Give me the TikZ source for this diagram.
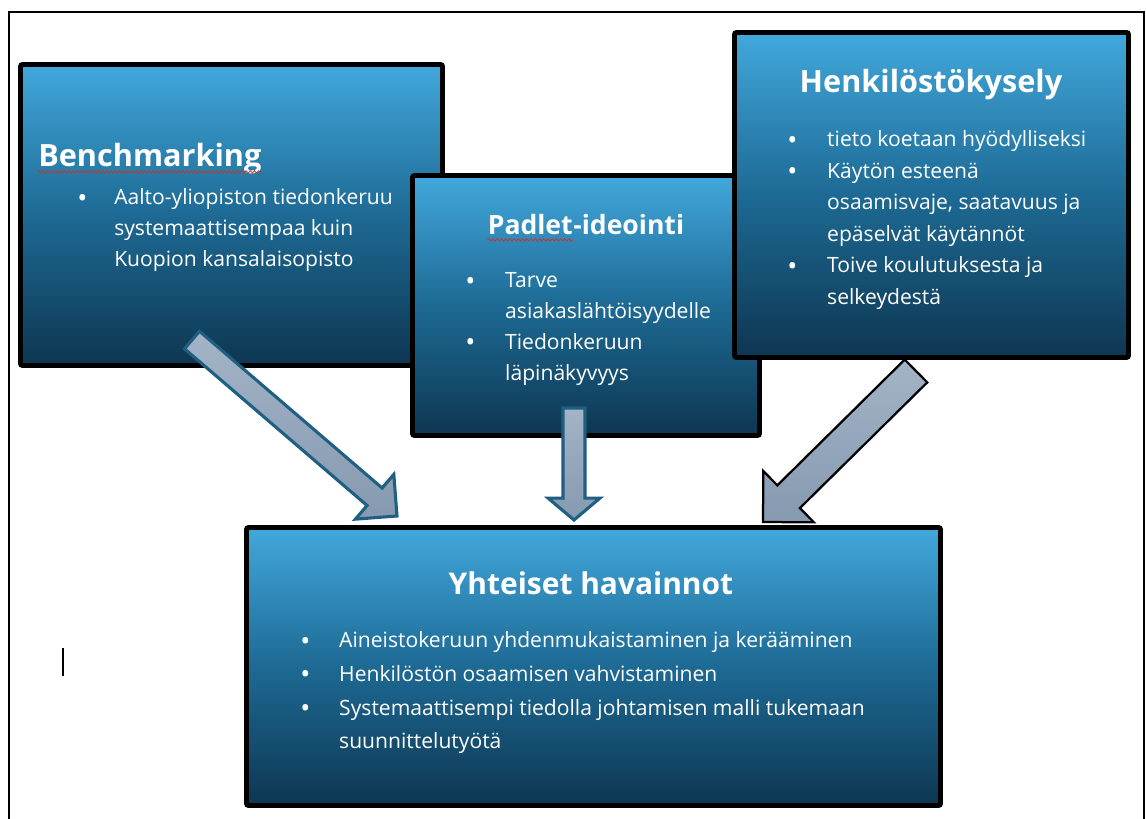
\documentclass[tikz,border=0pt]{standalone}
\usepackage{fontspec}
\setmainfont{Open Sans}
\usetikzlibrary{calc,fit,decorations.pathmorphing}

\definecolor{boxtop}{HTML}{42A8DC}
\definecolor{boxmid}{HTML}{1D6A94}
\definecolor{boxbot}{HTML}{0E3651}
\definecolor{arrowtop}{HTML}{A4B4C7}
\definecolor{arrowbot}{HTML}{8599B0}
\definecolor{arrowline}{HTML}{1F5F82}
\definecolor{spellred}{HTML}{C0392B}

% block arrow: tail, tip, shaft half width, head half width, head length, style
\newcommand{\blockarrow}[6]{%
  \coordinate (ahbase) at ($(#2)!#5!(#1)$);
  \draw[#6] ($(#1)!#3!90:(#2)$) -- ($(ahbase)!#3!90:(#2)$) -- ($(ahbase)!#4!90:(#2)$)
    -- (#2) -- ($(ahbase)!#4!-90:(#2)$) -- ($(ahbase)!#3!-90:(#2)$) -- ($(#1)!#3!-90:(#2)$) -- cycle;
}
% list bullet
\newcommand{\bul}{\raisebox{-1.6pt}{\fontsize{19}{19}\selectfont\textbullet}}

\begin{document}
\begin{tikzpicture}[x=0.025cm,y=-0.025cm,
    infobox/.style={draw=black,line width=3.5pt,rounded corners=1.5pt,inner sep=0pt,
      top color=boxtop,bottom color=boxbot,middle color=boxmid},
    boxtitle/.style={text=white,inner sep=0pt,font=\bfseries\fontsize{21.8}{26}\selectfont},
    boxtext/.style={text=white,inner sep=0pt,anchor=base west,font=\fontsize{15}{21.8}\selectfont},
    bigarrow/.style={draw=arrowline,line width=2.2pt,line join=miter,top color=arrowtop,bottom color=arrowbot},
    darkarrow/.style={bigarrow,draw=black,line width=1.6pt},
    spell/.style={draw=spellred,line width=0.6pt,decorate,decoration={snake,amplitude=0.8pt,segment length=3pt}}]

  \useasboundingbox (0,0) rectangle (1146,819);
  \draw[line width=1pt] (9,12) rectangle (1144,840);

  % source boxes
  \node[infobox,fit={(20.5,64.5) (442.5,365.5)}] (bench) {};
  \node[infobox,fit={(412.5,175.5) (759.5,435.5)}] (padlet) {};
  \node[infobox,fit={(734.5,32.5) (1128.5,357.5)}] (henk) {};
  \node[infobox,fit={(246.5,527.5) (940.5,805.5)}] (yht) {};

  % Benchmarking
  \node[boxtitle,anchor=base west] (benchtitle) at (38,167) {Benchmarking};
  \draw[spell] ([yshift=-3.5pt]benchtitle.base west) -- ([yshift=-3.5pt]benchtitle.base east);
  \node[boxtext] (benchlist) at (77,205) {\begin{tabular}[t]{@{}p{26.3pt}@{}l@{}}
    \bul & Aalto-yliopiston tiedonkeruu\\
    & systemaattisempaa kuin\\
    & Kuopion kansalaisopisto
  \end{tabular}};

  % Padlet
  \node[boxtitle,anchor=base east,font=\bfseries\fontsize{18.9}{22}\selectfont] (padword) at (573,235) {Padlet};
  \node[boxtitle,anchor=base west,font=\bfseries\fontsize{18.9}{22}\selectfont] (padrest) at (padword.base east) {-ideointi};
  \draw[spell] ([yshift=-3.5pt]padword.base west) -- ([yshift=-3.5pt]padword.base east);
  \node[boxtext,font=\fontsize{15}{21.9}\selectfont] (padlist) at (465,288) {\begin{tabular}[t]{@{}p{28.4pt}@{}l@{}}
    \bul & Tarve\\
    & asiakaslähtöisyydelle\\
    \bul & Tiedonkeruun\\
    & läpinäkyvyys
  \end{tabular}};

  % Henkilöstökysely
  \node[boxtitle,anchor=base] (henktitle) at (931,93) {Henkilöstökysely};
  \node[boxtext,font=\fontsize{15}{22.4}\selectfont] (henklist) at (787,147) {\begin{tabular}[t]{@{}p{28.4pt}@{}l@{}}
    \bul & tieto koetaan hyödylliseksi\\
    \bul & Käytön esteenä\\
    & osaamisvaje, saatavuus ja\\
    & epäselvät käytännöt\\
    \bul & Toive koulutuksesta ja\\
    & selkeydestä
  \end{tabular}};

  % Yhteiset havainnot
  \node[boxtitle,anchor=base,font=\bfseries\fontsize{21.3}{26}\selectfont] (yhttitle) at (591,595) {Yhteiset havainnot};
  \node[boxtext,font=\fontsize{15}{23.9}\selectfont] (yhtlist) at (300,648) {\begin{tabular}[t]{@{}p{27.7pt}@{}l@{}}
    \bul & Aineistokeruun yhdenmukaistaminen ja kerääminen\\
    \bul & Henkilöstön osaamisen vahvistaminen\\
    \bul & Systemaattisempi tiedolla johtamisen malli tukemaan\\
    & suunnittelutyötä
  \end{tabular}};

  % arrows into the common box
  \coordinate (benchtail) at (192,340);
  \coordinate (benchtip) at (397,516);
  \coordinate (padtail) at (574,408);
  \coordinate (padtip) at (574,520);
  \coordinate (henktail) at (916,371);
  \coordinate (henktip) at (763,522);
  \blockarrow{benchtail}{benchtip}{8.2pt}{21pt}{21pt}{bigarrow}
  \blockarrow{padtail}{padtip}{7.8pt}{18.5pt}{15.6pt}{bigarrow}
  \blockarrow{henktail}{henktip}{11.4pt}{25.6pt}{25.6pt}{darkarrow}

  \draw[line width=0.8pt] (63,648) -- (63,676);
\end{tikzpicture}
\end{document}
